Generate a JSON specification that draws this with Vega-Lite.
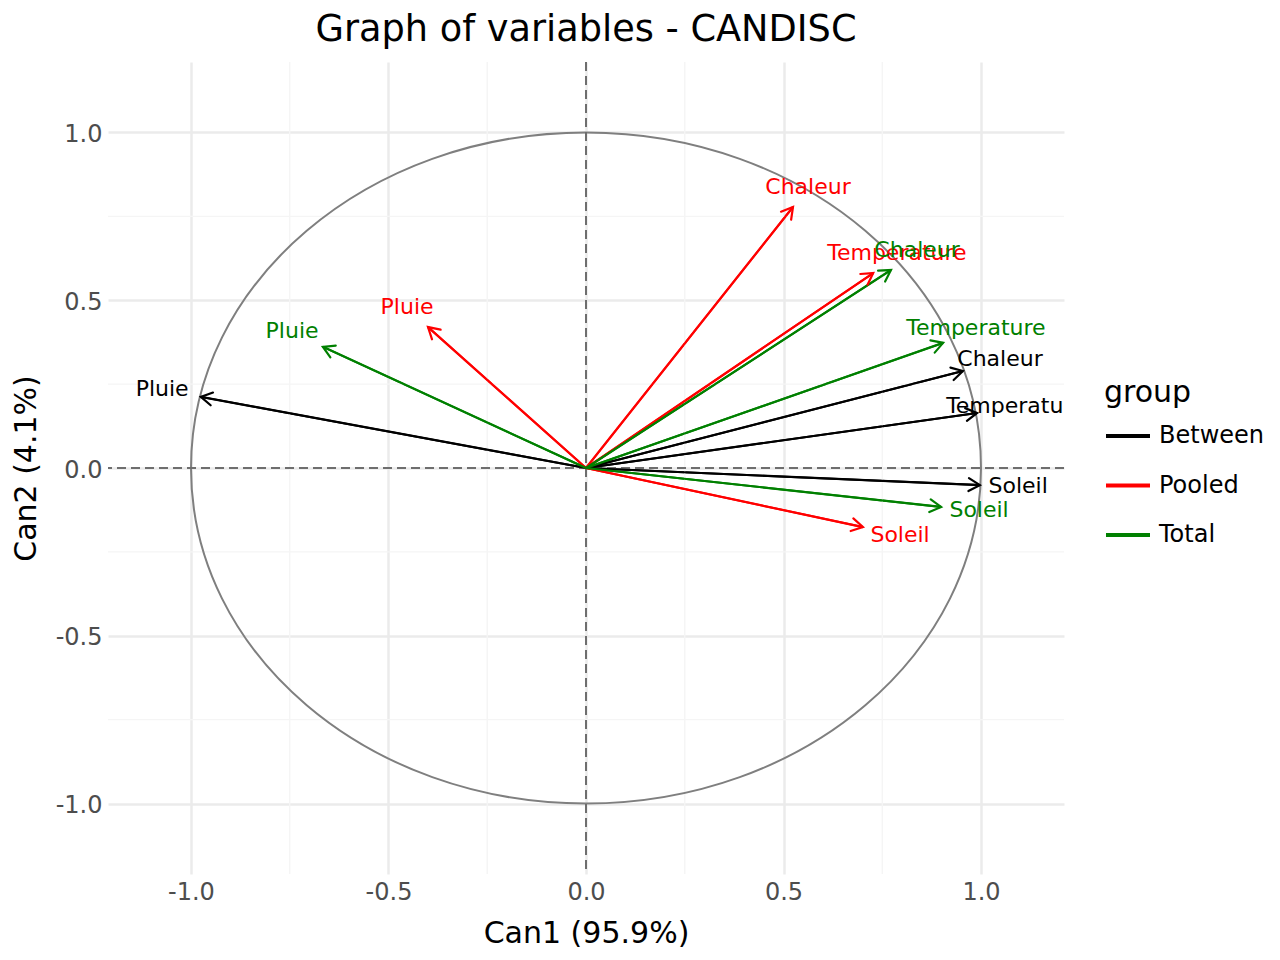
{
  "$schema": "https://vega.github.io/schema/vega-lite/v6.json",
  "autosize": {"type": "none"},
  "width": 956,
  "height": 812,
  "padding": {"left": 108, "top": 62, "right": 216, "bottom": 86},
  "background": "white",
  "title": {
    "text": "Graph of variables - CANDISC",
    "fontSize": 36.7,
    "fontWeight": "normal",
    "color": "black",
    "anchor": "middle",
    "baseline": "alphabetic",
    "offset": 13,
    "dy": 30
  },
  "datasets": {
    "coords": [
      {"group": "Between", "variable": "Pluie", "x": -0.975, "y": 0.212, "lx": -1.073, "ly": 0.235},
      {"group": "Between", "variable": "Chaleur", "x": 0.954, "y": 0.289, "lx": 1.048, "ly": 0.325},
      {"group": "Between", "variable": "Temperature", "x": 0.990, "y": 0.164, "lx": 1.088, "ly": 0.185},
      {"group": "Between", "variable": "Soleil", "x": 0.997, "y": -0.051, "lx": 1.094, "ly": -0.054},
      {"group": "Pooled", "variable": "Pluie", "x": -0.400, "y": 0.420, "lx": -0.453, "ly": 0.480},
      {"group": "Pooled", "variable": "Chaleur", "x": 0.524, "y": 0.778, "lx": 0.562, "ly": 0.838},
      {"group": "Pooled", "variable": "Temperature", "x": 0.727, "y": 0.581, "lx": 0.787, "ly": 0.641},
      {"group": "Pooled", "variable": "Soleil", "x": 0.701, "y": -0.176, "lx": 0.795, "ly": -0.200},
      {"group": "Total", "variable": "Pluie", "x": -0.666, "y": 0.361, "lx": -0.744, "ly": 0.408},
      {"group": "Total", "variable": "Chaleur", "x": 0.772, "y": 0.590, "lx": 0.838, "ly": 0.650},
      {"group": "Total", "variable": "Temperature", "x": 0.904, "y": 0.373, "lx": 0.987, "ly": 0.417},
      {"group": "Total", "variable": "Soleil", "x": 0.899, "y": -0.116, "lx": 0.995, "ly": -0.125}
    ],
    "minor": [{"v": -0.75}, {"v": -0.25}, {"v": 0.25}, {"v": 0.75}],
    "origin": [{"cx": 0, "cy": 0}]
  },
  "layer": [
    {
      "data": {"name": "coords"},
      "mark": {"type": "rule", "strokeWidth": 2},
      "encoding": {
        "x": {
          "field": "x", "type": "quantitative",
          "title": "Can1 (95.9%)",
          "scale": {"domain": [-1.21, 1.21], "nice": false, "zero": false},
          "axis": {
            "values": [-1, -0.5, 0, 0.5, 1],
            "labelExpr": "datum.value < 0 ? '-' + format(-datum.value, '.1f') : format(datum.value, '.1f')",
            "labelBaseline": "alphabetic",
            "labelPadding": 25,
            "titleX": 478,
            "titleY": 68,
            "titleBaseline": "alphabetic",
            "titleAlign": "center"
          }
        },
        "y": {
          "field": "y", "type": "quantitative",
          "title": "Can2 (4.1%)",
          "scale": {"domain": [-1.21, 1.21], "nice": false, "zero": false},
          "axis": {
            "values": [-1, -0.5, 0, 0.5, 1],
            "labelExpr": "datum.value < 0 ? '-' + format(-datum.value, '.1f') : format(datum.value, '.1f')",
            "labelPadding": 6,
            "labelOffset": 2,
            "titleAngle": -90,
            "titleX": -73,
            "titleY": 406,
            "titleBaseline": "alphabetic",
            "titleAlign": "center"
          }
        },
        "x2": {"datum": 0},
        "y2": {"datum": 0},
        "color": {
          "field": "group", "type": "nominal",
          "scale": {"domain": ["Between", "Pooled", "Total"], "range": ["#000000", "#ff0000", "#008000"]},
          "legend": {
            "title": "group",
            "orient": "none",
            "legendX": 996,
            "legendY": 316,
            "symbolType": "stroke",
            "symbolSize": 1936,
            "symbolStrokeWidth": 4,
            "titleFontSize": 30,
            "titleFontWeight": "normal",
            "titleColor": "black",
            "titleBaseline": "top",
            "titlePadding": 4,
            "labelFontSize": 24,
            "labelColor": "black",
            "labelOffset": 7,
            "rowPadding": 13.5
          }
        }
      }
    },
    {
      "data": {"name": "minor"},
      "mark": {"type": "rule", "color": "#f5f5f5", "strokeWidth": 1.4},
      "encoding": {
        "x": {"field": "v", "type": "quantitative", "title": "Can1 (95.9%)", "scale": {"domain": [-1.21, 1.21], "nice": false, "zero": false}}
      }
    },
    {
      "data": {"name": "minor"},
      "mark": {"type": "rule", "color": "#f5f5f5", "strokeWidth": 1.4},
      "encoding": {
        "y": {"field": "v", "type": "quantitative", "title": "Can2 (4.1%)", "scale": {"domain": [-1.21, 1.21], "nice": false, "zero": false}}
      }
    },
    {
      "data": {"name": "origin"},
      "mark": {
        "type": "point",
        "shape": "M1,0C1,0.4691,0.5523,0.8494,0,0.8494C-0.5523,0.8494,-1,0.4691,-1,0C-1,-0.4691,-0.5523,-0.8494,0,-0.8494C0.5523,-0.8494,1,-0.4691,1,0Z",
        "size": 624100,
        "filled": false,
        "stroke": "#7f7f7f",
        "strokeWidth": 2,
        "opacity": 1
      },
      "encoding": {
        "x": {"field": "cx", "type": "quantitative", "title": "Can1 (95.9%)", "scale": {"domain": [-1.21, 1.21], "nice": false, "zero": false}},
        "y": {"field": "cy", "type": "quantitative", "title": "Can2 (4.1%)", "scale": {"domain": [-1.21, 1.21], "nice": false, "zero": false}}
      }
    },
    {
      "data": {"name": "origin"},
      "mark": {"type": "rule", "color": "#6e6e6e", "strokeWidth": 2, "strokeDash": [9, 5]},
      "encoding": {
        "x": {"field": "cx", "type": "quantitative", "title": "Can1 (95.9%)", "scale": {"domain": [-1.21, 1.21], "nice": false, "zero": false}}
      }
    },
    {
      "data": {"name": "origin"},
      "mark": {"type": "rule", "color": "#6e6e6e", "strokeWidth": 2, "strokeDash": [9, 5]},
      "encoding": {
        "y": {"field": "cy", "type": "quantitative", "title": "Can2 (4.1%)", "scale": {"domain": [-1.21, 1.21], "nice": false, "zero": false}}
      }
    },
    {
      "data": {"name": "coords"},
      "mark": {"type": "rule", "strokeWidth": 2.2},
      "encoding": {
        "x": {"field": "x", "type": "quantitative", "title": "Can1 (95.9%)", "scale": {"domain": [-1.21, 1.21], "nice": false, "zero": false}},
        "y": {"field": "y", "type": "quantitative", "title": "Can2 (4.1%)", "scale": {"domain": [-1.21, 1.21], "nice": false, "zero": false}},
        "x2": {"datum": 0},
        "y2": {"datum": 0},
        "color": {"field": "group", "type": "nominal", "legend": null}
      }
    },
    {
      "data": {"name": "coords"},
      "transform": [
        {"calculate": "atan2(-datum.y * 335.5, datum.x * 395) * 180 / PI", "as": "heading"}
      ],
      "mark": {
        "type": "point",
        "shape": "M-1,-0.577L0,0L-1,0.577",
        "size": 500,
        "filled": false,
        "strokeWidth": 2.2,
        "opacity": 1,
        "strokeCap": "round",
        "strokeJoin": "miter"
      },
      "encoding": {
        "x": {"field": "x", "type": "quantitative", "title": "Can1 (95.9%)", "scale": {"domain": [-1.21, 1.21], "nice": false, "zero": false}},
        "y": {"field": "y", "type": "quantitative", "title": "Can2 (4.1%)", "scale": {"domain": [-1.21, 1.21], "nice": false, "zero": false}},
        "angle": {"field": "heading", "type": "quantitative", "scale": null},
        "color": {"field": "group", "type": "nominal", "legend": null}
      }
    },
    {
      "data": {"name": "coords"},
      "mark": {"type": "text", "fontSize": 22, "baseline": "middle", "align": "center", "clip": true},
      "encoding": {
        "x": {"field": "lx", "type": "quantitative", "title": "Can1 (95.9%)", "scale": {"domain": [-1.21, 1.21], "nice": false, "zero": false}},
        "y": {"field": "ly", "type": "quantitative", "title": "Can2 (4.1%)", "scale": {"domain": [-1.21, 1.21], "nice": false, "zero": false}},
        "text": {"field": "variable"},
        "color": {"field": "group", "type": "nominal", "legend": null}
      }
    }
  ],
  "config": {
    "font": "DejaVu Sans",
    "view": {"stroke": null},
    "axis": {
      "grid": true,
      "gridColor": "#ebebeb",
      "gridWidth": 2.5,
      "domain": false,
      "ticks": false,
      "tickSize": 0,
      "labelFontSize": 24,
      "labelColor": "#4d4d4d",
      "titleFontSize": 30,
      "titleFontWeight": "normal",
      "titleColor": "black"
    }
  }
}
